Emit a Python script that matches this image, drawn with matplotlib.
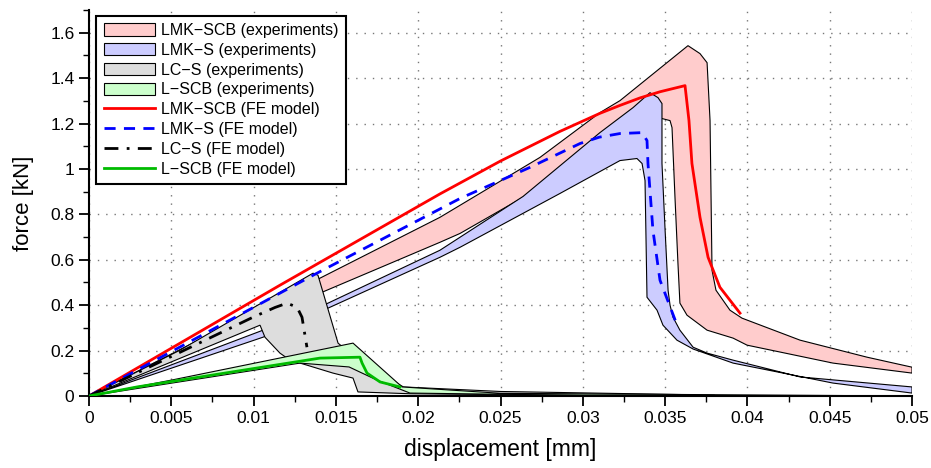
import matplotlib
matplotlib.use("Agg")
import matplotlib.pyplot as plt
import numpy as np
from matplotlib.ticker import MultipleLocator, FuncFormatter

plt.rcParams['font.family'] = ['Liberation Sans', 'DejaVu Sans']

# experimental envelopes (upper / lower boundary), displacement [mm], force [kN]
lmk_scb_up_x = [0, 0.01403, 0.02132, 0.0274, 0.03104, 0.03226, 0.03639, 0.03712, 0.03755,
                0.03773, 0.03785, 0.03809, 0.03894, 0.03967, 0.0432, 0.04727, 0.05]
lmk_scb_up_y = [0, 0.519, 0.787, 1.051, 1.248, 1.301, 1.543, 1.508, 1.468,
                1.213, 0.554, 0.466, 0.378, 0.343, 0.246, 0.171, 0.127]
lmk_scb_lo_x = [0, 0.01403, 0.02132, 0.02254, 0.02637, 0.03481, 0.0353, 0.03542, 0.0356,
                0.03578, 0.0359, 0.03633, 0.03755, 0.03913, 0.03998, 0.0452, 0.05]
lmk_scb_lo_y = [0, 0.453, 0.677, 0.716, 0.875, 1.222, 1.213, 1.182, 0.875,
                0.585, 0.409, 0.356, 0.29, 0.255, 0.224, 0.145, 0.101]

lmk_s_up_x = [0, 0.01057, 0.01452, 0.02132, 0.02637, 0.03104, 0.03305, 0.03408, 0.03457,
              0.03481, 0.03481, 0.035, 0.03518, 0.0353, 0.03548, 0.0359, 0.0367, 0.03755,
              0.03913, 0.0432, 0.05]
lmk_s_up_y = [0, 0.29, 0.409, 0.642, 0.879, 1.16, 1.27, 1.336, 1.314,
              1.288, 1.024, 0.73, 0.466, 0.4, 0.347, 0.29, 0.215, 0.189,
              0.158, 0.084, 0.04]
lmk_s_lo_x = [0, 0.01057, 0.01452, 0.02132, 0.02254, 0.02861, 0.03226, 0.03329, 0.0336,
              0.03378, 0.0339, 0.03451, 0.03487, 0.03572, 0.0367, 0.03913, 0.0452, 0.05]
lmk_s_lo_y = [0, 0.259, 0.387, 0.611, 0.655, 0.892, 1.037, 1.046, 1.024,
              0.949, 0.435, 0.378, 0.312, 0.246, 0.207, 0.145, 0.057, 0.013]

lc_s_up_x = [0, 0.00553, 0.01361, 0.01391, 0.01513, 0.0165, 0.0191, 0.025, 0.038]
lc_s_up_y = [0, 0.202, 0.541, 0.532, 0.233, 0.15, 0.04, 0.02, 0.004]
lc_s_lo_x = [0, 0.01039, 0.01069, 0.0116, 0.01221, 0.01324, 0.01482, 0.01604, 0.01634,
             0.0195, 0.03, 0.038]
lc_s_lo_y = [0, 0.312, 0.259, 0.189, 0.158, 0.136, 0.101, 0.079, 0.018,
             0.01, 0.003, 0.0]

l_scb_up_x = [0, 0.005, 0.01604, 0.01902, 0.025, 0.046]
l_scb_up_y = [0, 0.07, 0.233, 0.04, 0.012, 0.002]
l_scb_lo_x = [0, 0.01282, 0.0158, 0.0175, 0.0195, 0.03, 0.046]
l_scb_lo_y = [0, 0.145, 0.128, 0.07, 0.013, 0.003, 0.0]

# FE model curves
fe_lmk_scb_x = [0, 0.0116, 0.02132, 0.025, 0.0286, 0.03104, 0.03226, 0.03348, 0.03469, 0.03621,
                0.03645, 0.03663, 0.03712, 0.03761, 0.03833, 0.03955]
fe_lmk_scb_y = [0, 0.488, 0.89, 1.035, 1.165, 1.245, 1.28, 1.313, 1.34, 1.367,
                1.213, 1.024, 0.787, 0.611, 0.479, 0.365]
fe_lmk_s_x = [0, 0.01385, 0.02254, 0.02679, 0.02983, 0.031, 0.03226, 0.0336, 0.0339, 0.03396,
              0.03426, 0.03469, 0.03566]
fe_lmk_s_y = [0, 0.541, 0.87, 1.007, 1.112, 1.14, 1.156, 1.16, 1.125, 1.024,
              0.73, 0.51, 0.325]
fe_lc_s_x = [0, 0.00996, 0.0113, 0.01203, 0.01264, 0.01294, 0.01324]
fe_lc_s_y = [0, 0.347, 0.39, 0.409, 0.391, 0.347, 0.215]
fe_l_scb_x = [0, 0.00292, 0.01403, 0.01646, 0.01659, 0.01689, 0.01768, 0.01889]
fe_l_scb_y = [0, 0.04, 0.167, 0.171, 0.145, 0.101, 0.062, 0.04]

fig = plt.figure(figsize=(9.31, 4.68), dpi=100)
ax = fig.add_axes([0.0956, 0.1538, 0.884, 0.8248])


def band(ux, uy, lx, ly, color, label):
    xs = list(ux) + list(lx)[::-1]
    ys = list(uy) + list(ly)[::-1]
    ax.fill(xs, ys, facecolor=color, edgecolor='black', linewidth=0.8, label=label, zorder=2)


band(lmk_scb_up_x, lmk_scb_up_y, lmk_scb_lo_x, lmk_scb_lo_y, '#ffcccc', 'LMK\u2212SCB (experiments)')
band(lmk_s_up_x, lmk_s_up_y, lmk_s_lo_x, lmk_s_lo_y, '#ccccff', 'LMK\u2212S (experiments)')
band(lc_s_up_x, lc_s_up_y, lc_s_lo_x, lc_s_lo_y, '#dddddd', 'LC\u2212S (experiments)')
band(l_scb_up_x, l_scb_up_y, l_scb_lo_x, l_scb_lo_y, '#ccffcc', 'L\u2212SCB (experiments)')

ax.plot(fe_lmk_scb_x, fe_lmk_scb_y, color='#ff0000', lw=2, label='LMK\u2212SCB (FE model)', zorder=3)
ax.plot(fe_lmk_s_x, fe_lmk_s_y, color='#0000ff', lw=2, ls=(0, (4, 3)), label='LMK\u2212S (FE model)', zorder=3)
ax.plot(fe_lc_s_x, fe_lc_s_y, color='black', lw=2, ls=(0, (5, 3, 1, 3)), label='LC\u2212S (FE model)', zorder=3)
ax.plot(fe_l_scb_x, fe_l_scb_y, color='#00bb00', lw=2, label='L\u2212SCB (FE model)', zorder=3)

ax.set_xlim(0, 0.05)
ax.set_ylim(0, 1.7)
ax.xaxis.set_major_locator(MultipleLocator(0.005))
ax.xaxis.set_minor_locator(MultipleLocator(0.0025))
ax.yaxis.set_minor_locator(MultipleLocator(0.1))
ax.xaxis.set_major_formatter(FuncFormatter(lambda v, p: f"{v:.3f}".rstrip('0').rstrip('.') if v else "0"))
ax.yaxis.set_major_formatter(FuncFormatter(lambda v, p: f"{v:.1f}".rstrip('0').rstrip('.') if v else "0"))
ax.set_yticks(np.arange(0, 1.61, 0.2))

for s in ['top', 'right']:
    ax.spines[s].set_visible(False)
for s in ['left', 'bottom']:
    ax.spines[s].set_linewidth(1.5)
ax.tick_params(which='major', direction='out', length=7, width=1.3, labelsize=12.5)
ax.tick_params(which='minor', direction='out', length=4, width=1.0)
ax.grid(True, which='major', color='#777777', linestyle=(0, (1, 5)), linewidth=1, zorder=0)
ax.set_axisbelow(True)

ax.set_xlabel('displacement [mm]', fontsize=16.5, labelpad=9)
ax.set_ylabel('force [kN]', fontsize=16, labelpad=12)

leg = ax.legend(loc='upper left', bbox_to_anchor=(0.009, 0.985), borderaxespad=0,
                fontsize=11.5, fancybox=False, framealpha=1, edgecolor='black',
                handlelength=3.2, handleheight=0.8, labelspacing=0.3, handletextpad=0.4,
                borderpad=0.45)
leg.get_frame().set_linewidth(1.5)

fig.savefig('out.png', dpi=100)
